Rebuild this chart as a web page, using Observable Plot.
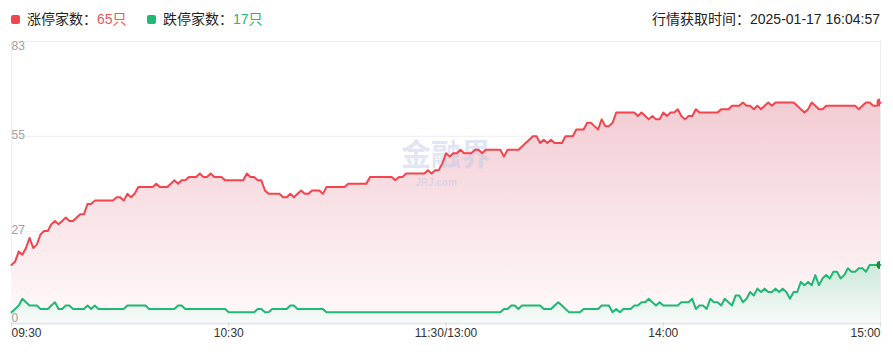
<!DOCTYPE html>
<html>
<head>
<meta charset="utf-8">
<script src="https://cdn.jsdelivr.net/npm/d3@7"></script>
<script src="https://cdn.jsdelivr.net/npm/@observablehq/plot@0.6"></script>
<style>
  html, body { margin: 0; padding: 0; background: #fff; }
  #wrap { position: relative; width: 893px; height: 358px; overflow: hidden;
          font-family: "Liberation Sans", Arial, "Noto Sans CJK SC", sans-serif; }
  #hdr { position: absolute; left: 0; top: 0; width: 893px; height: 36px; font-size: 14px; color: #222; }
  .lg { position: absolute; top: 10px; white-space: nowrap; line-height: 18px; }
  .sq { display: inline-block; width: 9px; height: 9px; border-radius: 2px; margin-right: 7px; vertical-align: 0px; }
  #chart { position: absolute; left: 0; top: 0; }
</style>
</head>
<body>
<div id="wrap">
  <div id="chart"></div>
  <div id="hdr">
    <div class="lg" style="left:11px"><span class="sq" style="background:#f4454e"></span>涨停家数：<span id="upv" style="color:#f4545b"></span></div>
    <div class="lg" style="left:147px"><span class="sq" style="background:#1fb874"></span>跌停家数：<span id="dnv" style="color:#22b677"></span></div>
    <div class="lg" style="right:13px" id="tm"></div>
  </div>
</div>
<script>
// Series: 涨停家数 (limit-up count) and 跌停家数 (limit-down count), one value per minute 09:30–11:30, 13:00–15:00
const limitUp = [
  17,18,21,20,22,25,22,23,26,27,
  27,29,30,29,30,31,30,30,31,32,
  32,35,35,36,36,36,36,36,36,37,
  37,36,38,37,38,40,40,40,40,40,
  41,40,40,40,41,42,41,42,42,43,
  43,43,44,43,43,44,43,43,43,42,
  42,42,42,42,42,44,43,43,42,42,
  39,38,38,38,38,37,37,38,37,38,
  39,38,38,39,39,39,38,40,40,40,
  40,40,40,41,41,41,41,41,41,43,
  43,43,43,43,43,43,42,43,43,44,
  44,44,44,44,44,45,44,45,45,47,
  50,49,50,50,51,50,50,50,51,51,
  50,51,51,51,51,51,49,51,51,51,
  51,52,53,54,55,55,53,54,53,54,
  53,53,53,55,55,55,57,57,57,59,
  59,58,57,60,58,58,59,62,62,62,
  62,62,62,61,62,61,60,61,60,60,
  62,61,62,62,63,61,60,61,61,63,
  62,62,62,62,62,62,63,63,63,64,
  64,64,65,64,64,63,64,63,64,65,
  64,65,65,65,65,65,65,64,63,62,
  63,65,64,63,63,64,64,64,64,64,
  64,64,64,64,63,64,65,65,64,64,
  65
];
const limitDown = [
  3,4,5,7,6,5,5,5,4,4,
  4,5,6,4,4,5,5,4,4,4,
  4,5,4,5,4,4,4,4,4,4,
  4,4,5,5,5,5,5,5,4,4,
  4,4,4,4,4,4,5,5,4,4,
  4,4,4,4,4,4,4,4,4,4,
  3,3,3,3,3,3,3,3,4,4,
  3,3,4,4,4,4,4,5,5,4,
  4,4,4,4,4,4,4,3,3,3,
  3,3,3,3,3,3,3,3,3,3,
  3,3,3,3,3,3,3,3,3,3,
  3,3,3,3,3,3,3,3,3,3,
  3,3,3,3,3,3,3,3,3,3,
  3,3,3,3,3,3,4,4,5,5,
  4,5,5,5,5,5,5,4,4,4,
  5,6,5,4,3,3,3,3,4,4,
  4,4,4,5,5,5,3,4,3,4,
  4,4,5,5,6,6,7,6,5,6,
  5,5,5,5,5,6,6,6,7,4,
  5,5,4,7,6,6,5,7,6,5,
  8,8,6,7,9,8,10,9,10,9,
  9,10,9,10,9,7,9,9,12,11,
  12,11,14,11,13,14,13,15,15,13,
  14,16,15,15,16,16,15,17,17,17,
  17
];
const minuteIndex = limitUp.map((_, i) => i);
const xTickPos = [0, 60, 120, 180, 240];
const xTickLabels = ["09:30", "10:30", "11:30/13:00", "14:00", "15:00"];
const yTicks = [0, 27, 55, 83];
const fetchTime = "行情获取时间：2025-01-17 16:04:57";

const rows = minuteIndex.map(i => ({i, up: limitUp[i], down: limitDown[i]}));
const last = rows[rows.length - 1];

document.getElementById("upv").textContent = last.up + "只";
document.getElementById("dnv").textContent = last.down + "只";
document.getElementById("tm").textContent = fetchTime;

const defs = () => {
  const ns = "http://www.w3.org/2000/svg";
  const g = document.createElementNS(ns, "defs");
  g.innerHTML =
    '<linearGradient id="gUp" x1="0" y1="0" x2="0" y2="1">' +
      '<stop offset="0" stop-color="#f2ccd3"/><stop offset="1" stop-color="#fffafb"/></linearGradient>' +
    '<linearGradient id="gDn" x1="0" y1="0" x2="0" y2="1">' +
      '<stop offset="0" stop-color="#cce8d9"/><stop offset="1" stop-color="#f7fbf9"/></linearGradient>';
  return g;
};

const tick = xTickLabels.map((t, k) => ({x: xTickPos[k], t}));

const chart = Plot.plot({
  width: 893,
  height: 358,
  marginLeft: 11,
  marginRight: 13,
  marginTop: 41,
  marginBottom: 36,
  x: {domain: [0, 240], axis: null},
  y: {domain: [0, 83], axis: null},
  style: {fontFamily: '"Liberation Sans", Arial, "Noto Sans CJK SC", sans-serif', background: "transparent", overflow: "visible"},
  marks: [
    defs,
    Plot.ruleY(yTicks.filter(d => d > 0), {stroke: "#eeeeee", strokeWidth: 1}),
    Plot.ruleX([0, 240], {stroke: "#eeeef2", strokeWidth: 1}),
    Plot.areaY(rows, {x: "i", y: "up", fill: "url(#gUp)"}),
    Plot.areaY(rows, {x: "i", y: "down", fill: "url(#gDn)"}),
    Plot.text(["金融界"], {frameAnchor: "middle", dy: -27, fontSize: 30, fontWeight: "bold", fill: "#b9c6e6", fillOpacity: 0.45, fontFamily: '"Noto Sans CJK SC", sans-serif'}),
    Plot.text(["JRJ.com"], {frameAnchor: "middle", dy: 1, dx: -10, fontSize: 10, fontWeight: "bold", fill: "#b9c6e6", fillOpacity: 0.45}),
    Plot.ruleY([0], {stroke: "#e4e6ed", strokeWidth: 2, dy: 1}),
    Plot.lineY(rows, {x: "i", y: "up", stroke: "#f4454e", strokeWidth: 2, curve: "linear"}),
    Plot.lineY(rows, {x: "i", y: "down", stroke: "#1fb874", strokeWidth: 2, curve: "linear"}),
    Plot.dot([last], {x: "i", y: "up", r: 4, fill: "#f4454e", clip: true}),
    Plot.dot([last], {x: "i", y: "down", r: 4, fill: "#15902f", clip: true}),
    // y labels
    Plot.text(yTicks.filter(d => d === 83), {x: 0, y: d => d, text: d => String(d), textAnchor: "start", lineAnchor: "top", dy: 0, fill: "#a0a0a0", fontSize: 12}),
    Plot.text(yTicks.filter(d => d > 0 && d < 83), {x: 0, y: d => d, text: d => String(d), textAnchor: "start", lineAnchor: "middle", dy: -1, fill: "#a0a0a0", fontSize: 12}),
    Plot.text(yTicks.filter(d => d === 0), {x: 0, y: d => d, text: d => String(d), textAnchor: "start", lineAnchor: "bottom", dy: -1, fill: "#a0a0a0", fontSize: 12}),
    // x ticks
    Plot.axisX({ticks: xTickPos, tickSize: 5, tickFormat: () => "", stroke: "#d9dbe2", anchor: "bottom", tickPadding: 0}),
    // x labels
    Plot.text(tick.filter((d, k) => k === 0), {x: "x", text: "t", frameAnchor: "bottom", dy: 14, textAnchor: "start", fill: "#333", fontSize: 12}),
    Plot.text(tick.filter((d, k) => k > 0 && k < tick.length - 1), {x: "x", text: "t", frameAnchor: "bottom", dy: 14, textAnchor: "middle", fill: "#333", fontSize: 12}),
    Plot.text(tick.filter((d, k) => k === tick.length - 1), {x: "x", text: "t", frameAnchor: "bottom", dy: 14, textAnchor: "end", fill: "#333", fontSize: 12})
  ]
});
document.getElementById("chart").appendChild(chart);
</script>
</body>
</html>
